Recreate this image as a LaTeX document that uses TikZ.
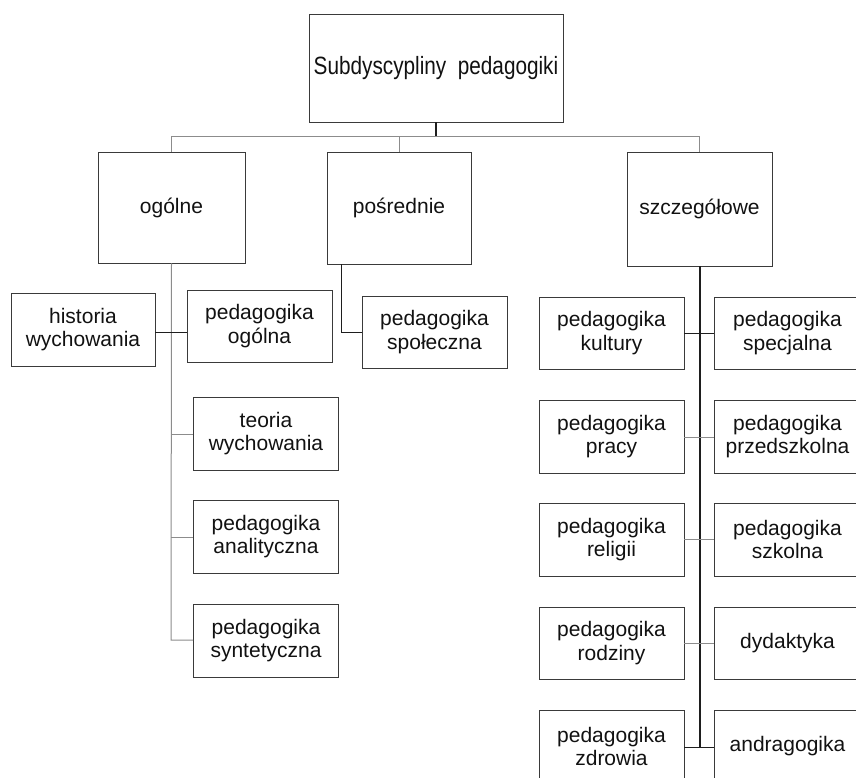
\documentclass[tikz,border=0pt]{standalone}
\usepackage{fontspec}
\setmainfont{Liberation Sans}
\definecolor{boxc}{HTML}{3A3A3A}
\definecolor{lgray}{HTML}{8C8C8C}
\definecolor{dgray}{HTML}{1E1E1E}
\definecolor{txt}{HTML}{111111}
\begin{document}
\begin{tikzpicture}[x=1pt,y=-1pt,
  box/.style={draw=boxc, line width=0.9pt, minimum width=145pt, minimum height=72pt,
    align=center, inner sep=0pt, text=txt, font=\fontsize{21}{23.5}\selectfont},
  rbox/.style={box, minimum width=150pt},
  conn/.style={draw=lgray, line width=1pt},
  dconn/.style={draw=dgray, line width=1pt},
  trunk/.style={draw=dgray, line width=1.6pt}]
\useasboundingbox (0,0) rectangle (856,778);
\clip (0,0) rectangle (856,778);
% top
\node[box, minimum width=254pt, minimum height=108pt, font=\fontsize{25}{27}\selectfont] (top) at (436,68) {\scalebox{0.83}[1]{Subdyscypliny\ \ pedagogiki}};
% level 2
\node[box, minimum width=147pt, minimum height=111pt] (og) at (171.5,207.5) {ogólne};
\node[box, minimum width=144pt, minimum height=112pt] (po) at (399,208) {pośrednie};
\node[box, minimum width=145pt, minimum height=114pt] (sz) at (699.5,209) {szczegółowe};
\coordinate (bus) at (436,137);
\draw[trunk] (top.south) -- (bus);
\draw[conn] (og.north) -- (og.north |- bus) -- (sz.north |- bus) -- (sz.north);
\draw[conn] (po.north) -- (po.north |- bus);
% ogolne branch
\node[box, minimum width=144pt, minimum height=73pt] (hist) at (83,329.5) {historia\\wychowania};
\node[box] (ogl) at (259.5,326) {pedagogika\\ogólna};
\node[box, minimum height=73pt] (teo) at (266,433.5) {teoria\\wychowania};
\node[box, minimum height=73pt] (ana) at (266,536.5) {pedagogika\\analityczna};
\node[box, minimum height=73pt] (syn) at (266,640.5) {pedagogika\\syntetyczna};
\coordinate (ogbot) at (171,640);
\draw[conn] (og.south) -- (ogbot) -- (ogbot -| syn.west);
\draw[dconn] (hist.east |- 0,332) -- (ogl.west |- 0,332);
\draw[conn] (teo.west |- 0,434) -- (171,434);
\draw[conn] (ana.west |- 0,537) -- (171,537);
% posrednie branch
\node[box] (spo) at (434.5,332) {pedagogika\\społeczna};
\coordinate (pobot) at (341,264);
\draw[dconn] (pobot) -- (pobot |- spo.west) -- (spo.west);
% szczegolowe branch
\node[box] (kul) at (611.5,333) {pedagogika\\kultury};
\node[box, minimum height=73pt] (pra) at (611.5,436.5) {pedagogika\\pracy};
\node[box, minimum height=73pt] (rel) at (611.5,539.5) {pedagogika\\religii};
\node[box] (rod) at (611.5,643) {pedagogika\\rodziny};
\node[box, minimum height=73pt] (zdr) at (611.5,746.5) {pedagogika\\zdrowia};
\node[rbox] (spe) at (789,333) {\hspace*{-3pt}pedagogika\\\hspace*{-3pt}specjalna};
\node[rbox, minimum height=73pt] (prz) at (789,436.5) {\hspace*{-3pt}pedagogika\\\hspace*{-3pt}przedszkolna};
\node[rbox, minimum height=73pt] (szk) at (789,539.5) {\hspace*{-3pt}pedagogika\\\hspace*{-3pt}szkolna};
\node[rbox] (dyd) at (789,643) {\hspace*{-3pt}dydaktyka};
\node[rbox, minimum height=73pt] (and) at (789,746.5) {\hspace*{-3pt}andragogika};
\coordinate (szbot) at (700,747);
\draw[trunk] (sz.south -| szbot) -- (szbot);
\draw[dconn] (kul.east |- 0,333) -- (spe.west |- 0,333);
\draw[conn] (pra.east |- 0,437) -- (prz.west |- 0,437);
\draw[conn] (rel.east |- 0,539) -- (szk.west |- 0,539);
\draw[conn] (rod.east |- 0,643) -- (dyd.west |- 0,643);
\draw[dconn] (zdr.east |- 0,747) -- (and.west |- 0,747);
\end{tikzpicture}
\end{document}
